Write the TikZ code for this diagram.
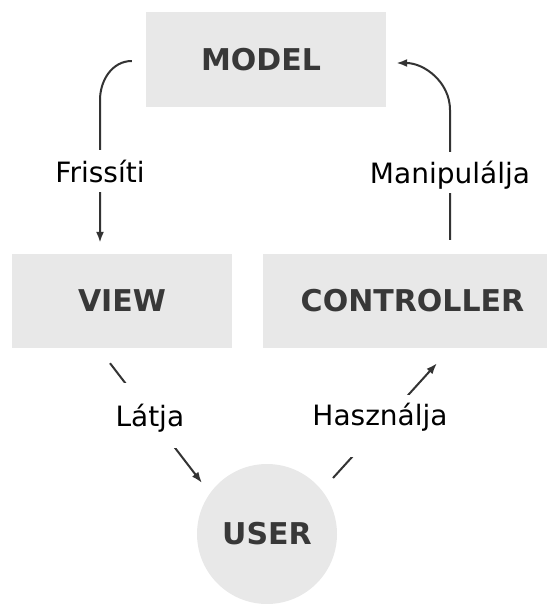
\documentclass[tikz,border=0pt]{standalone}
\usepackage{fontspec}
\setmainfont{DejaVu Sans}
\usetikzlibrary{calc,arrows.meta}

\definecolor{boxgray}{HTML}{E8E8E8}
\definecolor{boxtext}{HTML}{383838}
\definecolor{linegray}{HTML}{333333}

\tikzset{
  part/.style={fill=boxgray, draw=none, inner sep=0pt, text=boxtext,
    font=\fontsize{30}{32}\selectfont\bfseries},
  block/.style={part, rectangle, minimum height=95pt},
  person/.style={part, circle, minimum size=140pt},
  conn/.style={draw=linegray, line width=2pt},
  arrowconn/.style={conn, -{Latex[length=11pt,width=8pt]}},
  lbl/.style={fill=white, inner xsep=4pt, inner ysep=8pt, text=black,
    text height=24pt, text depth=2pt,
    font=\fontsize{28}{30}\selectfont},
}

\begin{document}
\begin{tikzpicture}[x=1pt,y=-1pt]
  \useasboundingbox (0,0) rectangle (550,604);

  % the four parts of the pattern
  \node[block, minimum width=240pt] (model) at (266,59.5) {\hspace*{-10pt}MODEL};
  \node[block, minimum width=220pt, minimum height=94pt] (view) at (122,301) {VIEW};
  \node[block, minimum width=284pt, minimum height=94pt] (controller) at (405,301) {\hspace*{15pt}CONTROLLER};
  \node[person] (user) at (267,534) {USER};

  % bend points of the two curved connectors
  \coordinate (fbend) at (100,100);
  \coordinate (mbend) at (450,110);

  % model -> view
  \draw[arrowconn] ($(model.west)+(-14,1.5)$) to[out=180,in=90] (fbend)
    -- node[lbl, pos=0.5] (frissiti) {Frissíti} ($(view.north)+(-22,-11)$);

  % controller -> model
  \draw[arrowconn] ($(controller.north)+(45,-14)$)
    -- node[lbl, pos=0.52, inner ysep=7.5pt] (manipulalja) {Manipulálja} (mbend)
    to[out=90,in=0] ($(model.east)+(10,3.5)$);

  % view -> user
  \draw[arrowconn] ($(view.south)+(-12,15)$)
    -- node[lbl, pos=0.433, inner ysep=19.5pt] (latja) {Látja} ($(user)+(-65,-51)$);

  % user -> controller
  \draw[arrowconn] ($(user)+(66,-56)$)
    -- node[lbl, pos=0.452, text depth=26pt, inner ysep=6pt] (hasznalja) {Használja} ($(controller.south)+(32,15)$);
\end{tikzpicture}
\end{document}
